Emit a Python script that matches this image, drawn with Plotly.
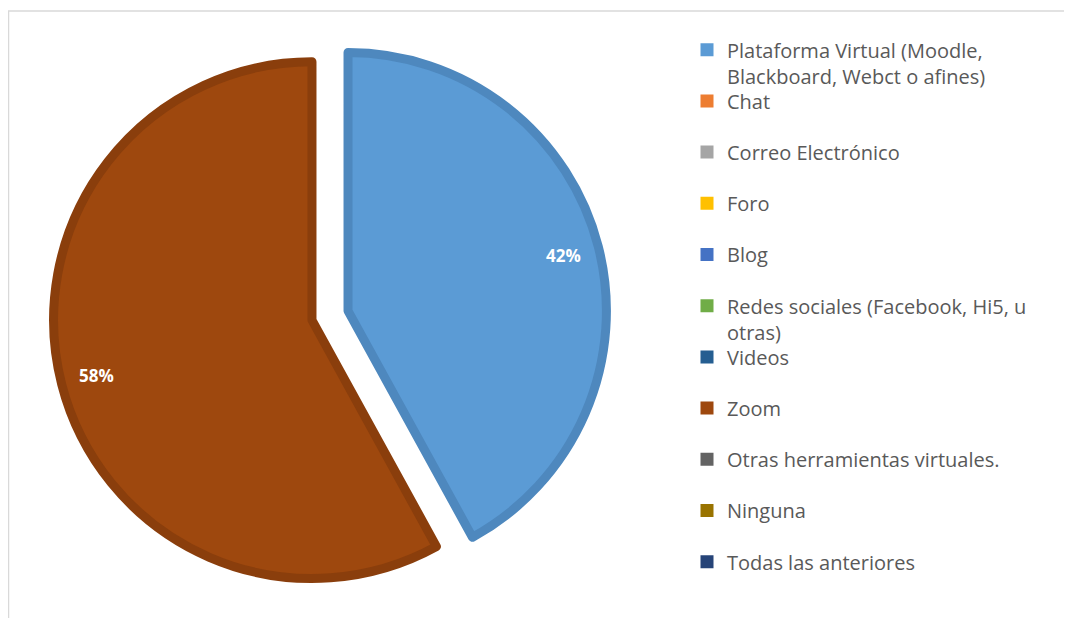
import math
import plotly.graph_objects as go

labels = [
    "Plataforma Virtual (Moodle,<br>Blackboard, Webct o afines)",
    "Chat",
    "Correo Electrónico",
    "Foro",
    "Blog",
    "Redes sociales (Facebook, Hi5, u<br>otras)",
    "Videos",
    "Zoom",
    "Otras herramientas virtuales.",
    "Ninguna",
    "Todas las anteriores",
]
values = [42, 0, 0, 0, 0, 0, 0, 58, 0, 0, 0]
fill_colors = ["#5B9BD5", "#ED7D31", "#A5A5A5", "#FFC000", "#4472C4", "#70AD47",
               "#255E91", "#9E480E", "#636363", "#997300", "#264478"]
line_colors = ["#4E88BE", "#ED7D31", "#A5A5A5", "#FFC000", "#4472C4", "#70AD47",
               "#255E91", "#8A3E0C", "#636363", "#997300", "#264478"]

W, H = 1056, 610
PULL = 0.072
LINE_W = 9
dom_x = [45 / W, 599 / W]
dom_y = [1 - 584.5 / H, 1 - 30.5 / H]

fig = go.Figure()
fig.add_trace(go.Pie(
    labels=labels,
    values=values,
    sort=False,
    direction="clockwise",
    rotation=0,
    pull=PULL,
    marker=dict(colors=fill_colors, line=dict(color=line_colors,
                width=[LINE_W if v > 0 else 0 for v in values])),
    textinfo="none",
    domain=dict(x=dom_x, y=dom_y),
    hoverinfo="label+percent",
    showlegend=False,
))

# percentage labels placed along each slice's mid-angle (computed from the values)
total = sum(values)
cx = (dom_x[0] + dom_x[1]) / 2 * W
cy = (1 - (dom_y[0] + dom_y[1]) / 2) * H
r = min((dom_x[1] - dom_x[0]) * W, (dom_y[1] - dom_y[0]) * H) / 2 / (1 + PULL)
annotations = []
cum = 0
for v in values:
    if v > 0:
        mid = 2 * math.pi * (cum + v / 2) / total
        dx, dy = math.sin(mid), -math.cos(mid)
        px = cx + dx * r * PULL + dx * r * 0.86
        py = cy + dy * r * PULL + dy * r * 0.86
        annotations.append(dict(
            x=px / W, y=1 - py / H, xref="paper", yref="paper",
            xanchor="center", yanchor="middle",
            text=f"<b>{round(100 * v / total)}%</b>", showarrow=False,
            font=dict(family="Open Sans", size=17, color="white"),
        ))
    cum += v

# legend entries (one small legend per entry so that the slot spacing matches)
LEG_FONT = 20
legend_layout = {}
first_top = 51 - 8 - (6.3 + 0.65 * LEG_FONT + 1.5)
step = 51.2
for i, (lab, col) in enumerate(zip(labels, fill_colors)):
    key = "legend" if i == 0 else f"legend{i + 1}"
    fig.add_trace(go.Scatter(
        x=[None], y=[None], mode="markers", name=lab,
        marker=dict(symbol="square", size=13, color=col, line=dict(width=0)),
        legend=key, showlegend=True, hoverinfo="skip",
    ))
    legend_layout[key] = dict(
        x=679 / W, y=1 - (first_top + i * step) / H, xanchor="left", yanchor="top",
        font=dict(family="Open Sans", size=LEG_FONT, color="#595959"),
        valign="top", bgcolor="rgba(0,0,0,0)", borderwidth=0,
    )

fig.update_layout(
    width=W, height=H,
    margin=dict(l=0, r=0, t=0, b=0),
    paper_bgcolor="white",
    plot_bgcolor="white",
    xaxis=dict(visible=False),
    yaxis=dict(visible=False),
    annotations=annotations,
    shapes=[dict(type="rect", xref="paper", yref="paper",
                 x0=0.5 / W, x1=1.05, y0=-0.05, y1=1 - 3 / H,
                 line=dict(color="#D9D9D9", width=1.5), fillcolor="rgba(0,0,0,0)",
                 layer="below")],
    **legend_layout,
)

fig.write_html("out.html")
